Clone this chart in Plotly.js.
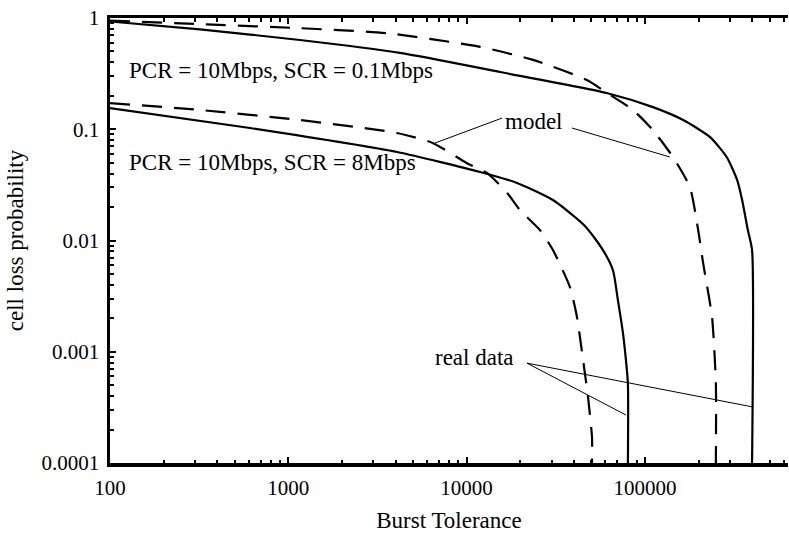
<!DOCTYPE html>
<html>
<head>
<meta charset="utf-8">
<script src="https://cdn.plot.ly/plotly-3.0.1.min.js"></script>
<style>html,body{margin:0;padding:0;background:#fff;}#chart{width:789px;height:533px;}</style>
</head>
<body>
<div id="chart"></div>
<script>
// ---- data ----
// PCR = 10Mbps, SCR = 0.1Mbps : real data (solid)
const realHiX = [100, 320, 1160, 4230, 15400, 61000, 111000, 164000, 232000, 288000, 329000, 351000, 378000, 399000, 399000];
const realHiY = [0.93, 0.79, 0.634, 0.485, 0.327, 0.212, 0.158, 0.121, 0.085, 0.056, 0.035, 0.0231, 0.0124, 0.0082, 0.0001];
// PCR = 10Mbps, SCR = 0.1Mbps : model (dashed)
const modelHiX = [100, 320, 1160, 3580, 11900, 23600, 47300, 61200, 85700, 111000, 144000, 179000, 199000, 212000, 238000, 250000, 250000];
const modelHiY = [0.95, 0.88, 0.81, 0.73, 0.55, 0.42, 0.277, 0.212, 0.149, 0.098, 0.056, 0.030, 0.0124, 0.0063, 0.00205, 0.00052, 0.0001];
// PCR = 10Mbps, SCR = 8Mbps : model (dashed)
const modelLoX = [100, 320, 1160, 4070, 6490, 10000, 13000, 16900, 19900, 25800, 30500, 38000, 41600, 45000, 48000, 50500, 50500];
const modelLoY = [0.172, 0.149, 0.121, 0.0925, 0.075, 0.0498, 0.0405, 0.0267, 0.0188, 0.0124, 0.0082, 0.0038, 0.00205, 0.00084, 0.00039, 0.00017, 0.0001];
// PCR = 10Mbps, SCR = 8Mbps : real data (solid)
const realLoX = [100, 610, 4070, 11900, 19200, 30500, 46100, 58200, 66200, 70600, 75300, 78300, 80300, 80300];
const realLoY = [0.155, 0.1026, 0.0625, 0.0413, 0.0329, 0.0231, 0.0135, 0.0082, 0.0054, 0.0029, 0.00148, 0.00084, 0.00052, 0.0001];

const xTickVals = [100, 1000, 10000, 100000];
const xTickText = ['100', '1000', '10000', '100000'];
const yTickVals = [0.0001, 0.001, 0.01, 0.1, 1];
const yTickText = ['0.0001', '0.001', '0.01', '0.1', '1'];

const labelHi = 'PCR = 10Mbps, SCR = 0.1Mbps';
const labelLo = 'PCR = 10Mbps, SCR = 8Mbps';
const labelModel = 'model';
const labelReal = 'real data';
const xTitle = 'Burst Tolerance';
const yTitle = 'cell loss probability';

// leader-line end points (data units)
const modelLeaders = [[15800, 0.126, 6650, 0.0752], [39000, 0.1026, 138000, 0.0563]];
const realLeaders = [[21800, 0.00079, 78300, 0.00027], [21800, 0.00079, 399000, 0.00032]];

// minor tick positions
const xMinor = [], yMinor = [];
for (let d = 100; d <= 100000; d *= 10) for (let k = 2; k <= 9; k++) xMinor.push(k * d);
for (let d = 0.0001; d < 1; d *= 10) for (let k = 2; k <= 9; k++) yMinor.push(k * d);

const FONT = '"Liberation Serif", "Times New Roman", serif';
const solid = {color: '#000', width: 2.2, shape: 'spline', smoothing: 0.6};
const dashed = {color: '#000', width: 2.2, dash: '20px,12px', shape: 'spline', smoothing: 0.6};

const traces = [
  {x: realHiX, y: realHiY, mode: 'lines', line: solid, name: 'real hi'},
  {x: modelHiX, y: modelHiY, mode: 'lines', line: dashed, name: 'model hi'},
  {x: modelLoX, y: modelLoY, mode: 'lines', line: dashed, name: 'model lo'},
  {x: realLoX, y: realLoY, mode: 'lines', line: solid, name: 'real lo'}
];

const shapes = modelLeaders.concat(realLeaders).map(s => ({
  type: 'line', xref: 'x', yref: 'y', x0: s[0], y0: s[1], x1: s[2], y1: s[3],
  line: {color: '#000', width: 1}
}));

const LBL = {family: FONT, size: 23, color: '#000'};
const annotations = [
  {text: labelHi, x: Math.log10(124), y: Math.log10(0.34), xref: 'x', yref: 'y', xanchor: 'left', yanchor: 'middle', showarrow: false, font: LBL},
  {text: labelLo, x: Math.log10(124), y: Math.log10(0.05), xref: 'x', yref: 'y', xanchor: 'left', yanchor: 'middle', showarrow: false, font: LBL},
  {text: labelModel, x: Math.log10(16000), y: Math.log10(0.117), xref: 'x', yref: 'y', xanchor: 'left', yanchor: 'middle', showarrow: false, font: LBL},
  {text: labelReal, x: Math.log10(6500), y: Math.log10(0.00088), xref: 'x', yref: 'y', xanchor: 'left', yanchor: 'middle', showarrow: false, font: LBL}
];

const axisCommon = {
  showgrid: false, zeroline: false, showline: true, linecolor: '#000', linewidth: 3.5,
  ticks: 'inside', ticklen: 6, tickwidth: 2, tickcolor: '#000', ticklabelstandoff: 3,
  tickfont: {family: FONT, size: 21, color: '#000'}
};

const layout = {
  width: 789, height: 533,
  margin: {l: 110, r: 1, t: 18, b: 70},
  paper_bgcolor: '#fff', plot_bgcolor: '#fff',
  showlegend: false,
  xaxis: Object.assign({}, axisCommon, {
    type: 'log', range: [2, 5.8026], mirror: 'ticks',
    tickvals: xTickVals, ticktext: xTickText,
    minor: {tickvals: xMinor, ticks: 'inside', ticklen: 3.5, tickwidth: 2, tickcolor: '#000', showgrid: false},
    title: {text: xTitle, font: {family: FONT, size: 23, color: '#000'}, standoff: 16}
  }),
  yaxis: Object.assign({}, axisCommon, {
    type: 'log', range: [-4, 0],
    tickvals: yTickVals, ticktext: yTickText,
    minor: {tickvals: yMinor, ticks: 'inside', ticklen: 3.5, tickwidth: 2, tickcolor: '#000', showgrid: false},
    title: {text: yTitle, font: {family: FONT, size: 23, color: '#000'}, standoff: 12}
  }),
  shapes: shapes,
  annotations: annotations
};

Plotly.newPlot('chart', traces, layout, {staticPlot: true, displayModeBar: false});
</script>
</body>
</html>
